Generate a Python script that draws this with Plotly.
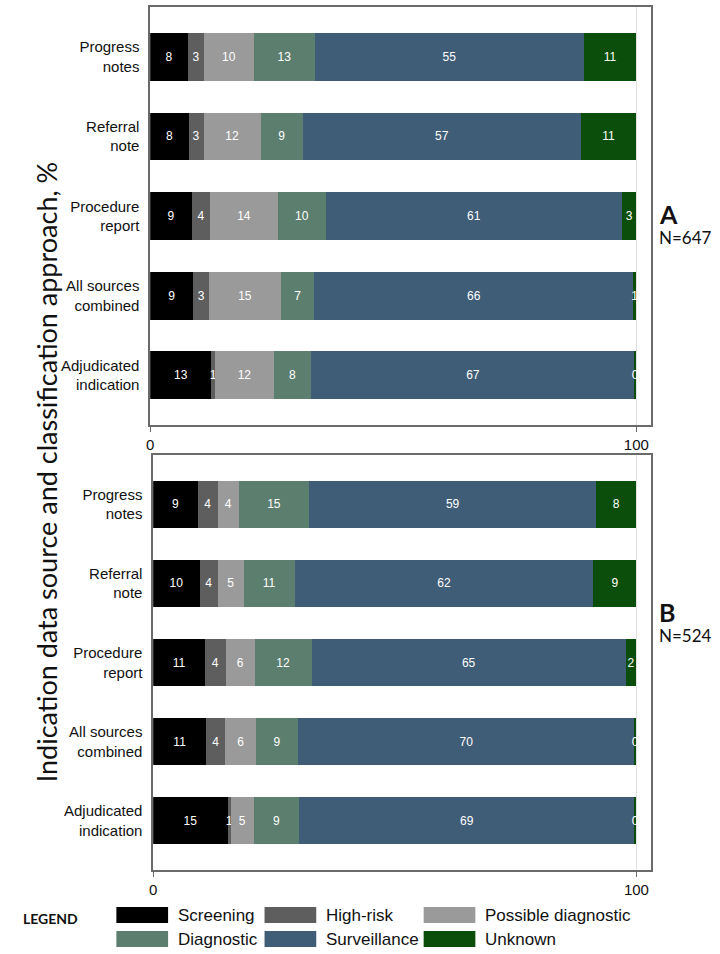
import plotly.graph_objects as go

W, H = 720, 954

categories = ["Progress<br>notes", "Referral<br>note", "Procedure<br>report",
              "All sources<br>combined", "Adjudicated<br>indication"]
classes = ["Screening", "High-risk", "Possible diagnostic",
           "Diagnostic", "Surveillance", "Unknown"]
colors = ["#000000", "#5e5e5e", "#9a9a9a", "#5c7e6e", "#405d77", "#0b4e0b"]

# Panel A (N=647), percent per category
a_screening = [7.7, 7.9, 8.6, 8.9, 12.6]
a_highrisk = [3.4, 3.1, 3.7, 3.2, 0.7]
a_possible = [10.2, 11.7, 14.0, 14.8, 12.2]
a_diagnostic = [12.6, 8.7, 9.8, 6.9, 7.6]
a_surveillance = [55.3, 57.2, 61.0, 65.6, 66.6]
a_unknown = [10.8, 11.4, 2.9, 0.6, 0.3]

# Panel B (N=524)
b_screening = [9.2, 9.6, 10.7, 11.0, 15.4]
b_highrisk = [4.2, 3.8, 4.3, 3.9, 0.7]
b_possible = [4.3, 5.3, 6.0, 6.4, 4.7]
b_diagnostic = [14.6, 10.6, 11.8, 8.6, 9.4]
b_surveillance = [59.4, 61.8, 65.0, 69.8, 69.4]
b_unknown = [8.3, 8.9, 2.2, 0.3, 0.4]

panel_a = [a_screening, a_highrisk, a_possible, a_diagnostic, a_surveillance, a_unknown]
panel_b = [b_screening, b_highrisk, b_possible, b_diagnostic, b_surveillance, b_unknown]

x_ticks = [0, 100]
panel_labels = ["A", "B"]
panel_ns = ["N=647", "N=524"]


def px_x(p):
    return p / W


def px_y(p):
    return 1 - p / H


fig = go.Figure()
for panel, (xa, ya) in zip([panel_a, panel_b], [("x", "y"), ("x2", "y2")]):
    for name, color, vals in zip(classes, colors, panel):
        fig.add_trace(go.Bar(
            y=categories, x=vals, name=name, orientation="h",
            marker=dict(color=color, line=dict(width=0)),
            text=vals, texttemplate="%{x:.0f}", textposition="inside",
            insidetextanchor="middle", textangle=0,
            insidetextfont=dict(color="white", size=12, family="Liberation Sans"),
            xaxis=xa, yaxis=ya, showlegend=False, hoverinfo="skip",
        ))

frame = "#6a6a6a"
xcommon = dict(range=[0, 103.1], tickvals=x_ticks, ticktext=[str(v) for v in x_ticks],
               showline=True, mirror=True, linecolor=frame, linewidth=1.5,
               ticks="outside", ticklen=5, tickcolor=frame, tickwidth=1.2,
               showgrid=True, gridcolor="#e2e2e2", gridwidth=1, zeroline=False,
               tickfont=dict(family="Liberation Sans", size=15, color="#111"))
ycommon = dict(type="category", categoryarray=categories, range=[4.625, -0.625],
               showline=True, mirror=True, linecolor=frame, linewidth=1.5,
               ticks="", showgrid=False, zeroline=False, ticklabelstandoff=6,
               tickfont=dict(family="Liberation Sans", size=15, color="#111"))

fig.update_layout(
    width=W, height=H, margin=dict(l=0, r=0, t=0, b=0),
    paper_bgcolor="white", plot_bgcolor="white",
    barmode="stack", bargap=0.4,
    uniformtext=dict(minsize=12, mode="show"),
    xaxis=dict(domain=[px_x(147), px_x(651)], anchor="y", **xcommon),
    yaxis=dict(domain=[px_y(425), px_y(7)], anchor="x", **ycommon),
    xaxis2=dict(domain=[px_x(150), px_x(651)], anchor="y2", **xcommon),
    yaxis2=dict(domain=[px_y(870), px_y(455)], anchor="x2", **ycommon),
    showlegend=False,
)

ann = []
ann.append(dict(text="Indication data source and classification approach, %",
                x=px_x(25), y=px_y(472), xref="paper", yref="paper",
                textangle=-90, showarrow=False,
                font=dict(family="Lato", size=27, color="#111")))
for lab, n, yc, yn in zip(panel_labels, panel_ns, [197, 612], [225, 635]):
    ann.append(dict(text=f"<b>{lab}</b>", x=px_x(657), y=px_y(yc), xref="paper", yref="paper",
                    xanchor="left", showarrow=False,
                    font=dict(family="Lato", size=25, color="#111")))
    ann.append(dict(text=n, x=px_x(657), y=px_y(yn), xref="paper", yref="paper",
                    xanchor="left", showarrow=False,
                    font=dict(family="Lato", size=17, color="#111")))

ann.append(dict(text="<b>LEGEND</b>", x=px_x(17), y=px_y(929), xref="paper", yref="paper",
                xanchor="left", showarrow=False,
                font=dict(family="Lato", size=14, color="#111")))

shapes = []
col_x = [113, 262, 422]
row_y = [907, 931]
for i, (name, color) in enumerate(zip(classes, colors)):
    r, c = divmod(i, 3)
    x0 = col_x[c]
    y0 = row_y[r]
    shapes.append(dict(type="rect", xref="paper", yref="paper",
                       x0=px_x(x0), x1=px_x(x0 + 52), y0=px_y(y0 + 16), y1=px_y(y0),
                       fillcolor=color, line=dict(width=0)))
    ann.append(dict(text=name, x=px_x(x0 + 60), y=px_y(y0 + 8), xref="paper", yref="paper",
                    xanchor="left", yanchor="middle", showarrow=False,
                    font=dict(family="Liberation Sans", size=17, color="#111")))

fig.update_layout(annotations=ann, shapes=shapes)
fig.write_html("out.html", config={"displayModeBar": False},
               post_script="document.body.style.margin='0';document.body.style.overflow='hidden';")
